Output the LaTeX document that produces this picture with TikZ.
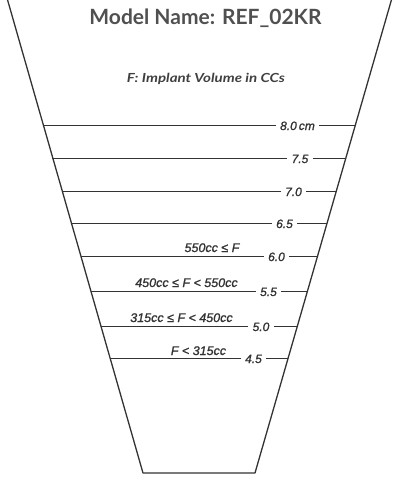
\documentclass[tikz,border=0pt]{standalone}
\usepackage{fontspec}
\setmainfont{Liberation Sans}
\newfontfamily\latofont{Lato}
\newfontfamily\numfont[ItalicFeatures={FakeBold=1.3}]{Liberation Sans}
\definecolor{ink}{HTML}{333333}
\definecolor{subgray}{HTML}{404040}
\definecolor{titlegray}{HTML}{505050}
\begin{document}
\begin{tikzpicture}[x=1pt,y=-1pt,
  edge/.style={draw=ink,line width=1.3pt},
  tick/.style={draw=ink,line width=0.9pt},
  num/.style={font=\numfont\fontsize{12}{13}\selectfont\itshape,text=ink,inner sep=0pt,anchor=base},
  cond/.style={font=\numfont\fontsize{12.5}{13}\selectfont\itshape,text=ink,inner sep=0pt,anchor=base},
  title/.style={font=\latofont\fontsize{21}{22}\selectfont\bfseries,text=titlegray,inner sep=0pt},
  subtitle/.style={font=\latofont\fontsize{12.5}{14}\selectfont\bfseries\itshape,text=subgray,inner sep=0pt}]
\useasboundingbox (0,0) rectangle (401,483);
\clip (0,0) rectangle (401,483);
% trapezoid
\coordinate (TL) at (7,-2);
\coordinate (BL) at (143,473);
\coordinate (BR) at (255,473);
\coordinate (TR) at (392,-2);
\draw[edge,line join=round] (TL) -- (BL) -- (BR) -- (TR);
% titles
\node[title] (ttl) at (205.5,18) {Model Name: REF\_02KR};
\node[subtitle] (sub) at (206,79) {\resizebox{158pt}{\height}{F: Implant Volume in CCs}};
% scale lines
\foreach \yy/\cx/\lab/\nm in {125/297.5/8.0\,cm/a, 158/300/7.5/b, 191/293.5/7.0/c, 223/284.5/6.5/d,
                              256/276.5/6.0/e, 291/268.5/5.5/f, 326/261/5.0/g, 358/253.5/4.5/h}{
  \coordinate (L\nm) at ({7+0.2875*\yy},\yy);
  \coordinate (R\nm) at ({392-0.2896*\yy},\yy);
  \node[num] (N\nm) at (\cx,\yy+5) {\lab};
  \draw[tick] (L\nm) -- ([xshift=-4pt]N\nm.west |- L\nm);
  \draw[tick] ([xshift=4pt]N\nm.east |- R\nm) -- (R\nm);
}
% conditions
\node[cond] (c1) at (212,252) {550cc ≤ F};
\node[cond] (c2) at (186.5,287) {450cc ≤ F < 550cc};
\node[cond] (c3) at (181.5,322) {315cc ≤ F < 450cc};
\node[cond] (c4) at (198.5,355) {F < 315cc};
\end{tikzpicture}
\end{document}
